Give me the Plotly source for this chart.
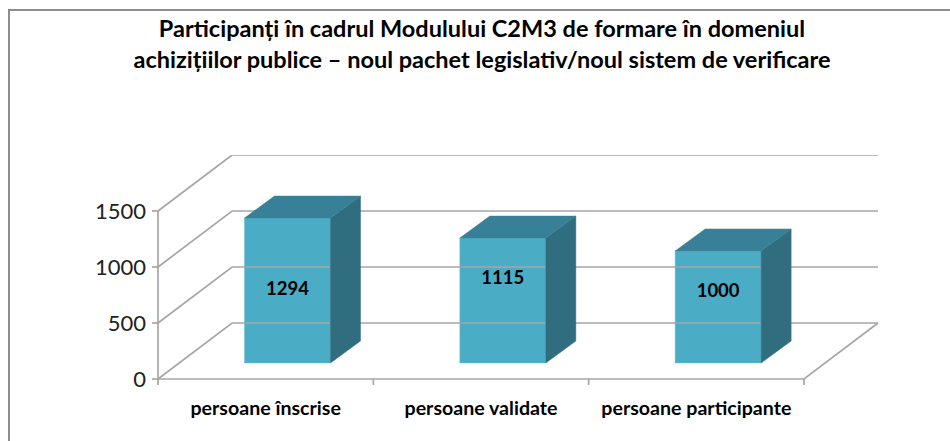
import plotly.graph_objects as go

categories = ["persoane înscrise", "persoane validate", "persoane participante"]
values = [1294, 1115, 1000]
y_ticks = [0, 500, 1000, 1500]
title_text = ("Participanți în cadrul Modulului C2M3 de formare în domeniul<br>"
              "achizițiilor publice – noul pachet legislativ/noul sistem de verificare")

W, H = 950, 441
PAD = 9                 # room kept inside the plot area for the outside tick marks
L, R, T, B = 158 - PAD, 882, 155, 379 + PAD
PX_X = 646 / 3          # px per category
PX_Y = 224 / 2000       # px per unit
def dx(px): return px / PX_X
def dy(px): return px / PX_Y

WALL_X, WALL_Y = dx(74), dy(56)
FLOOR_X, FLOOR_Y = dx(21.8), dy(16)
DEPTH_X, DEPTH_Y = dx(30), dy(22)
BAR_W = dx(86)
LABEL_FRAC = [0.503, 0.672, 0.634]

GRID = "#a6a6a6"
FRONT, TOP, SIDE = "#4BACC6", "#388097", "#306D7E"
FONT = "Lato"

fig = go.Figure()

def line(xs, ys, color=GRID, width=1.7):
    fig.add_trace(go.Scatter(x=xs, y=ys, mode="lines", hoverinfo="skip",
                             line=dict(color=color, width=width), showlegend=False))

n = len(categories)
for t in y_ticks:
    line([0, WALL_X, n + WALL_X], [t, t + WALL_Y, t + WALL_Y])
line([0, 0], [0, y_ticks[-1]])
line([0, n, n + WALL_X], [0, 0, WALL_Y])
for i in range(n + 1):
    line([i, i], [0, -dy(6)])
for t in y_ticks:
    line([0, -dx(6)], [t, t])

centres = [i + 0.5 + FLOOR_X for i in range(n)]
for c, v in zip(centres, values):
    x0, x1 = c - BAR_W / 2, c + BAR_W / 2
    y0, y1 = FLOOR_Y, FLOOR_Y + v
    fig.add_trace(go.Scatter(
        x=[x1, x1 + DEPTH_X, x1 + DEPTH_X, x1, x1],
        y=[y0, y0 + DEPTH_Y, y1 + DEPTH_Y, y1, y0],
        fill="toself", fillcolor=SIDE, mode="lines", line=dict(color=SIDE, width=0.5),
        hoverinfo="skip", showlegend=False))
    fig.add_trace(go.Scatter(
        x=[x0, x0 + DEPTH_X, x1 + DEPTH_X, x1, x0],
        y=[y1, y1 + DEPTH_Y, y1 + DEPTH_Y, y1, y1],
        fill="toself", fillcolor=TOP, mode="lines", line=dict(color=TOP, width=0.5),
        hoverinfo="skip", showlegend=False))

fig.add_trace(go.Bar(x=centres, y=values, base=[FLOOR_Y] * n, width=[BAR_W] * n,
                     marker=dict(color=FRONT, line=dict(color="#6fc0d6", width=0.5)),
                     showlegend=False))
fig.add_trace(go.Scatter(
    x=centres, y=[FLOOR_Y + v * f for v, f in zip(values, LABEL_FRAC)],
    mode="text", text=[str(v) for v in values],
    textfont=dict(family=FONT, size=18.5, color="#000000", weight="bold"),
    textposition="middle center", showlegend=False))

fig.update_layout(
    width=W, height=H, autosize=False,
    margin=dict(l=L, r=W - R, t=T, b=H - B),
    paper_bgcolor="#ffffff", plot_bgcolor="rgba(0,0,0,0)",
    showlegend=False,
    title=dict(text=title_text, x=482 / W, xanchor="center", y=1 - 37 / H, yanchor="middle",
               font=dict(family=FONT, size=23.5, color="#000000", weight="bold")),
    xaxis=dict(range=[-dx(PAD), (R - 158) / PX_X], tickvals=[i + 0.5 for i in range(n)], ticktext=categories,
               ticks="", showgrid=False, zeroline=False, showline=False, ticklabelstandoff=6,
               tickfont=dict(family=FONT, size=19.6, color="#000000", weight="bold")),
    yaxis=dict(range=[-dy(PAD), 2000], tickvals=y_ticks, ticks="", showgrid=False, zeroline=False,
               showline=False, ticklabelstandoff=2,
               tickfont=dict(family=FONT, size=22, color="#222222")),
    shapes=[dict(type="rect", xref="paper", yref="paper", layer="below",
                 x0=(9 - L) / (R - L), x1=(W + 20 - L) / (R - L),
                 y0=-(H + 20 - B) / (B - T), y1=(B - 10) / (B - T),
                 line=dict(color="#8c8c8c", width=2), fillcolor="rgba(0,0,0,0)")],
)
fig.write_html("out.html", config={"displayModeBar": False},
               post_script="document.body.style.margin='0';document.body.style.overflow='hidden';")
